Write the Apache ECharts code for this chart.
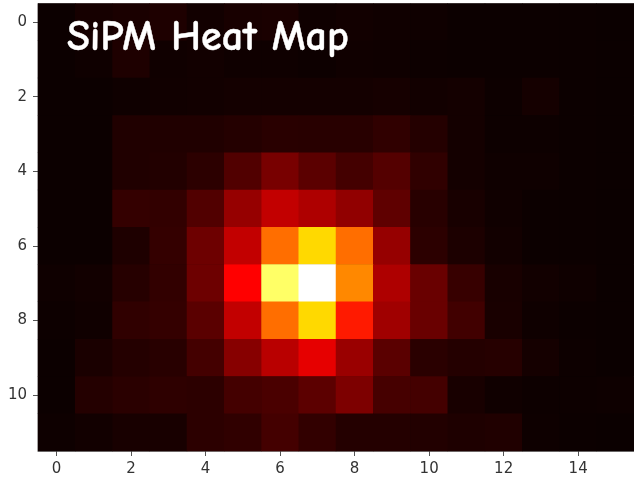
<!DOCTYPE html>
<html>
<head>
<meta charset="utf-8">
<style>html,body{margin:0;padding:0;background:#fff}#c{width:634px;height:481px}</style>
<script src="https://cdn.jsdelivr.net/npm/echarts@6/dist/echarts.min.js"></script>
</head>
<body>
<div id="c"></div>
<script>
const columns = ['0','1','2','3','4','5','6','7','8','9','10','11','12','13','14','15'];
const rowNames = ['0','1','2','3','4','5','6','7','8','9','10','11'];
const row0  = [0.1,1.7,2.3,2.9,1.1,2.0,2.3,0.6,1.1,0.8,0.6,0.2,0.2,0.1,0.1,0];
const row1  = [0.1,0.6,2.9,0.8,1.1,0.6,0.6,0.4,0.8,0.6,0.4,0.2,0.2,0.1,0.1,0];
const row2  = [0.1,0.2,0.6,0.9,1.1,1.4,1.4,1.4,1.4,1.7,1.1,1.4,0.4,1.6,0.1,0];
const row3  = [0.1,0.2,3.2,3.2,3.2,3.8,4.6,4.4,4.4,5.6,3.8,1.4,0.4,0.4,0.1,0];
const row4  = [0.1,0.2,3.2,3.5,5.0,10.4,16.3,12,8.6,11,5.6,1.4,0.6,0.6,0.1,0];
const row5  = [0.1,0.2,6.2,5.9,10.4,20.8,27.5,24.5,20,12.6,4.4,2.0,0.8,0.1,0.1,0];
const row6  = [0.1,0.2,2.9,6.2,14.8,27.5,52.9,68.9,52.9,20.8,5.0,2.6,1.1,0.2,0.1,0];
const row7  = [0.6,1.1,4.1,5.9,14.8,36.5,84.8,100,56.8,24.5,14.1,6.6,2.0,1.1,0.6,0];
const row8  = [0.3,0.8,5.6,6.2,11.9,27.5,52.9,68.9,40.4,22.3,14.1,8.1,2.2,0.6,0.1,0];
const row9  = [0.1,2.3,3.8,4.4,8.6,18.6,26.0,32.7,21.5,11.9,4.7,3.8,4.1,1.6,0.3,0];
const row10 = [0.1,3.8,4.7,5.3,5.0,8.6,9.5,12.2,17.1,8.9,8.6,2.0,0.8,0.3,0.3,0.5];
const row11 = [0.5,1.1,2.0,2.0,5.0,5.6,8.6,5.9,3.8,3.8,3.5,2.9,3.2,0.5,0.1,0];
const grid = [row0,row1,row2,row3,row4,row5,row6,row7,row8,row9,row10,row11];

// the 'hot' colormap as a ramp for the visual map
const hotRamp = [];
for (let i = 0; i <= 255; i++) {
  const t = i / 255;
  const r = Math.min(1, 0.0416 + t * (1 - 0.0416) / 0.365);
  const g = Math.max(0, Math.min(1, (t - 0.365) / 0.381));
  const b = Math.max(0, (t - 0.746) / 0.254);
  hotRamp.push(`rgb(${Math.round(r*255)},${Math.round(g*255)},${Math.round(b*255)})`);
}

const cells = [];
grid.forEach((row, y) => row.forEach((v, x) => cells.push([x, y, v])));

const axisColor = '#333333';
const chart = echarts.init(document.getElementById('c'), null, {renderer: 'canvas'});
chart.setOption({
  animation: false,
  backgroundColor: '#ffffff',
  title: {
    text: 'SiPM Heat Map',
    left: 62, top: 12,
    textStyle: {color: '#ffffff', fontFamily: '"Comic Sans MS", "Comic Neue", cursive', fontSize: 42, fontWeight: 'bold',
      textBorderColor: '#ffffff', textBorderWidth: 0.4}
  },
  grid: {left: 38, top: 3.5, width: 598, height: 447.5, show: true, borderColor: '#b5b5b5', borderWidth: 1, backgroundColor: '#0b0000'},
  xAxis: {
    type: 'category', data: columns,
    axisLine: {show: true, lineStyle: {color: '#888888', width: 1}},
    axisTick: {show: true, alignWithLabel: true, length: 5, lineStyle: {color: '#555555'}},
    axisLabel: {interval: 1, color: axisColor, fontFamily: 'DejaVu Sans', fontSize: 15, margin: 11},
    splitLine: {show: false}, splitArea: {show: false}
  },
  yAxis: {
    type: 'category', data: rowNames, inverse: true,
    axisLine: {show: true, lineStyle: {color: '#888888', width: 1}},
    axisTick: {show: true, alignWithLabel: true, length: 5, lineStyle: {color: '#555555'}},
    axisLabel: {interval: 1, color: axisColor, fontFamily: 'DejaVu Sans', fontSize: 15, margin: 11},
    splitLine: {show: false}, splitArea: {show: false}
  },
  visualMap: {show: false, type: 'continuous', min: 0, max: 100, dimension: 2, seriesIndex: 0, inRange: {color: hotRamp}},
  series: [{
    type: 'heatmap', data: cells, progressive: 0,
    itemStyle: {borderWidth: 0},
    emphasis: {disabled: true}
  }]
});
</script>
</body>
</html>
